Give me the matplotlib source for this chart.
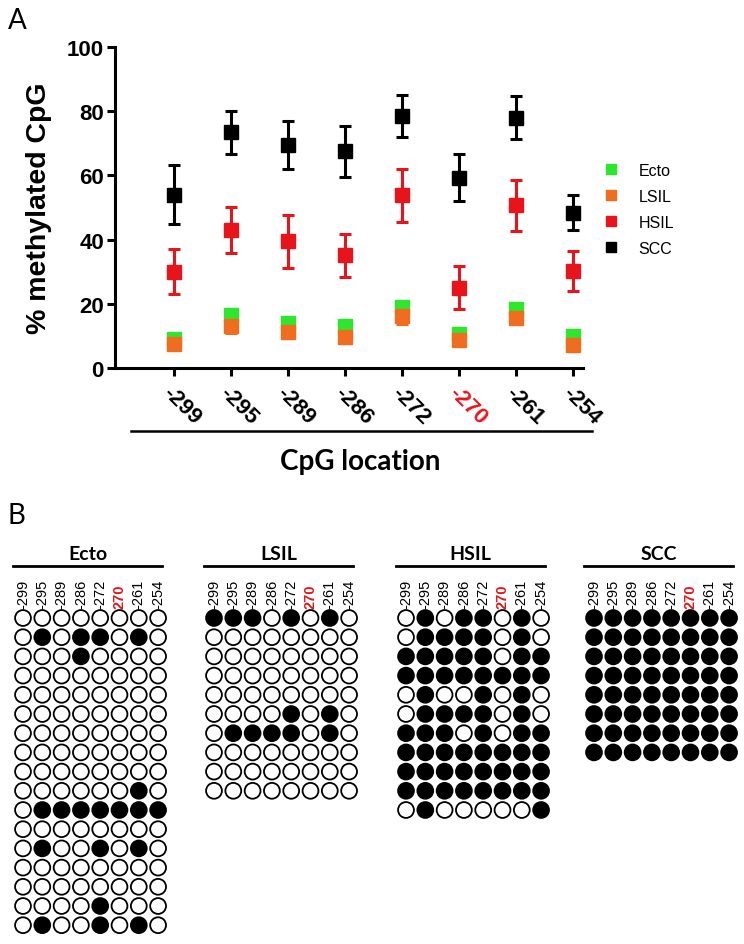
import matplotlib
matplotlib.use('Agg')
import matplotlib.pyplot as plt
from matplotlib.lines import Line2D
from matplotlib import transforms

plt.rcParams['font.family'] = ['Liberation Sans', 'DejaVu Sans']

# ---- panel A data ----
locations = ['-299', '-295', '-289', '-286', '-272', '-270', '-261', '-254']
ecto_mean = [9.0, 16.5, 14.0, 13.0, 19.0, 10.5, 18.5, 10.0]
ecto_err = [1.0, 2.0, 1.0, 1.5, 1.5, 1.0, 1.0, 1.0]
lsil_mean = [7.5, 13.0, 11.1, 9.8, 16.3, 8.6, 15.6, 7.3]
lsil_err = [1.5, 2.0, 1.5, 2.0, 2.5, 1.5, 1.5, 2.0]
hsil_mean = [30.0, 43.0, 39.5, 35.2, 53.8, 25.0, 50.7, 30.3]
hsil_err = [7.0, 7.3, 8.2, 6.7, 8.2, 6.7, 7.9, 6.2]
scc_mean = [54.0, 73.5, 69.5, 67.5, 78.5, 59.3, 78.0, 48.4]
scc_err = [9.2, 6.7, 7.6, 8.0, 6.5, 7.3, 6.6, 5.5]

groups = ['Ecto', 'LSIL', 'HSIL', 'SCC']
colors = {'Ecto': '#2fe62f', 'LSIL': '#f06c1e', 'HSIL': '#e8141c', 'SCC': '#000000'}
highlight = '-270'

# ---- panel B data: one string per clone, 1 = methylated ----
ecto_clones = ['00000000', '01011010', '00010000', '00000000', '00000000',
               '00000000', '00000000', '00000000', '00000000', '00000010',
               '01111111', '00000000', '01001010', '00000000', '00000000',
               '00001000', '01001010']
lsil_clones = ['11101010', '00000000', '00000000', '00000000', '00000000',
               '00001010', '01111010', '00000000', '00000000', '00000000']
hsil_clones = ['01011010', '01111010', '11111011', '11111111', '01001010',
               '01111010', '11101011', '11111111', '11111111', '11111111',
               '01000001']
scc_clones = ['11111111'] * 8
clone_sets = [ecto_clones, lsil_clones, hsil_clones, scc_clones]

W, H = 744, 945
fig = plt.figure(figsize=(W / 100, H / 100), dpi=100)

# ================= panel A =================
ax = fig.add_axes([115 / W, 1 - 369 / H, 468 / W, 321 / H])
xpos = list(range(1, len(locations) + 1))
series = [('SCC', scc_mean, scc_err), ('HSIL', hsil_mean, hsil_err),
          ('Ecto', ecto_mean, ecto_err), ('LSIL', lsil_mean, lsil_err)]
for name, m, e in series:
    c = colors[name]
    ax.errorbar(xpos, m, yerr=e, fmt='s', color=c, mec=c, ms=10.5,
                capsize=4.5, elinewidth=2.2, capthick=2.2, zorder=3)

ax.set_xlim(-0.033, 8.175)
ax.set_ylim(0, 100)
ax.set_yticks([0, 20, 40, 60, 80, 100])
ax.set_xticks(xpos)
ax.set_xticklabels(locations)
for s in ['top', 'right']:
    ax.spines[s].set_visible(False)
for s in ['left', 'bottom']:
    ax.spines[s].set_linewidth(2.2)
ax.tick_params(axis='both', width=2.2, length=6, labelsize=16)
ax.tick_params(axis='y', pad=2)
ax.tick_params(axis='x', pad=4)
for lab in ax.get_yticklabels():
    lab.set_fontweight('bold')
for lab in ax.get_xticklabels():
    lab.set_fontweight('bold')
    lab.set_rotation(-45)
    lab.set_ha('left')
    lab.set_va('top')
    lab.set_rotation_mode('anchor')
    if lab.get_text() == highlight:
        lab.set_color(colors['HSIL'])

ax.set_ylabel('% methylated CpG', fontsize=20.5, fontweight='bold')
ax.yaxis.set_label_coords(-0.135, 0.5)

ax.plot([0.034, 1.019], [-0.196, -0.196], transform=ax.transAxes,
        color='black', lw=1.8, clip_on=False)
ax.text(0.524, -0.29, 'CpG location', transform=ax.transAxes, ha='center',
        va='center', fontsize=20, fontweight='bold', family=['Lato', 'DejaVu Sans'])

handles = [Line2D([], [], marker='s', ls='none', color=colors[g], ms=7) for g in groups]
ax.legend(handles, groups, loc='upper left', bbox_to_anchor=(1.03, 0.66),
          frameon=False, fontsize=11.5, handlelength=1.0, handletextpad=1.2,
          labelspacing=0.7, borderaxespad=0)

fig.text(8 / W, 1 - 8 / H, 'A', fontsize=20, va='top', ha='left',
         family=['Lato', 'DejaVu Sans'])
fig.text(8 / W, 1 - 503 / H, 'B', fontsize=20, va='top', ha='left',
         family=['Lato', 'DejaVu Sans'])

# ================= panel B =================
col_step, row_step = 19.3, 19.2
first_col_px = [23, 214, 406, 594]
first_row_px = 619
site_labels = [l if l != highlight else highlight[1:] for l in locations]

for g, name in enumerate(groups):
    clones = clone_sets[g]
    nrow = len(clones)
    left = first_col_px[g] - col_step / 2
    top = first_row_px - row_step / 2
    height = nrow * row_step
    axb = fig.add_axes([left / W, 1 - (top + height) / H, 8 * col_step / W, height / H])
    axb.set_xlim(-0.5, 7.5)
    axb.set_ylim(nrow - 0.5, -0.5)
    for r, clone in enumerate(clones):
        xs = list(range(len(clone)))
        fc = ['black' if ch == '1' else 'white' for ch in clone]
        axb.scatter(xs, [r] * len(xs), s=130, facecolors=fc, edgecolors='black',
                    linewidths=1.3, zorder=3, clip_on=False)
    for s in axb.spines.values():
        s.set_visible(False)
    axb.set_yticks([])
    axb.xaxis.tick_top()
    axb.set_xticks(range(len(locations)))
    axb.set_xticklabels(site_labels, rotation=90, fontsize=10.5)
    axb.tick_params(axis='x', length=0, pad=0.5)
    for lab in axb.get_xticklabels():
        lab.set_va('bottom')
        if lab.get_text() == highlight[1:]:
            lab.set_color(colors['HSIL'])
            lab.set_fontweight('bold')
    tr = transforms.blended_transform_factory(axb.transAxes, fig.transFigure)
    axb.plot([-0.005, 0.965], [1 - 567 / H] * 2, transform=tr, color='black',
             lw=2.0, clip_on=False)
    axb.text(0.48, 1 - 555 / H, name, transform=tr, ha='center', va='center',
             fontsize=14, fontweight='bold', family=['Lato', 'DejaVu Sans'])

fig.savefig('out.png', dpi=100)
